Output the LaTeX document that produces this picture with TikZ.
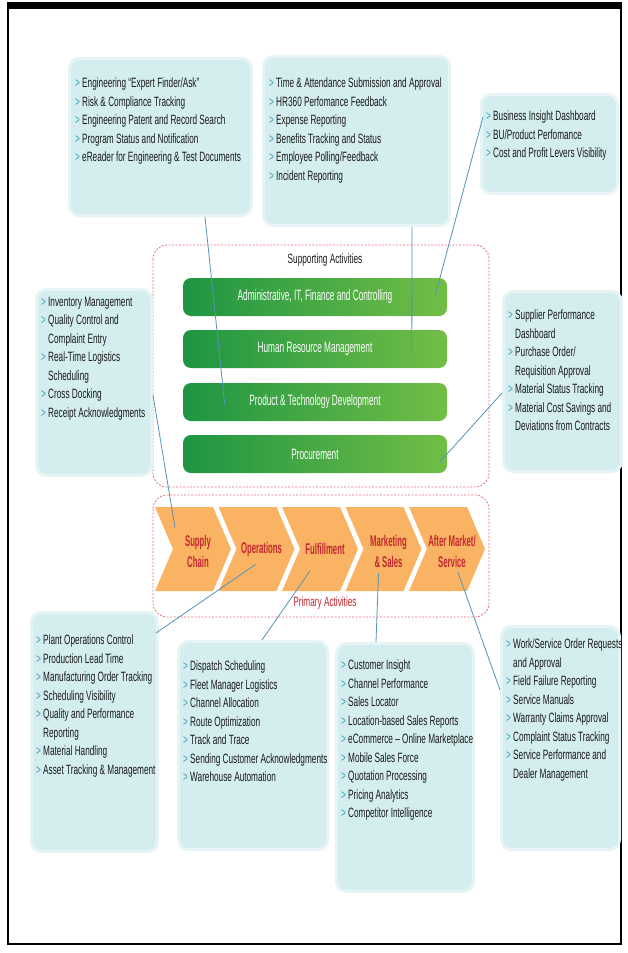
\documentclass[tikz,border=0pt]{standalone}
\usepackage{fontspec}
\setmainfont{Liberation Sans}
\newfontfamily\cond[FakeStretch=0.61]{Liberation Sans}
\newfontfamily\narrowbar[FakeStretch=0.55]{Liberation Sans}
\newfontfamily\narrowchev[FakeStretch=0.5]{Liberation Sans}
\usetikzlibrary{calc}

\definecolor{boxc}{HTML}{D4EDEF}
\definecolor{haloc}{HTML}{E6F4F5}
\definecolor{bulc}{HTML}{3C9FBE}
\definecolor{txtc}{HTML}{1A1A1A}
\definecolor{gdark}{HTML}{1E9543}
\definecolor{glight}{HTML}{72BE46}
\definecolor{orc}{HTML}{FAB363}
\definecolor{redt}{HTML}{C4282E}
\definecolor{dashc}{HTML}{E5737B}
\definecolor{conc}{HTML}{5593B8}

% list bullet and hanging indent for wrapped items
\newcommand\bl{\makebox[7pt][l]{\textcolor{bulc}{>}}}
\newcommand\ct{\hspace*{7pt}}

\begin{document}
\begin{tikzpicture}[x=1pt,y=-1pt,
  lbox/.style={fill=boxc, draw=haloc, line width=3pt, rounded corners=10pt, inner sep=0pt, anchor=north west},
  ltext/.style={anchor=north west, inner sep=0pt, align=left, text=txtc,
    font=\cond\fontsize{13.5}{18.5}\selectfont},
  bar/.style={rounded corners=8pt, left color=gdark, right color=glight,
    minimum width=264pt, minimum height=38pt, text=white, inner sep=0pt,
    font=\narrowbar\fontsize{15}{17}\selectfont},
  zone/.style={draw=dashc, dash pattern=on 2pt off 1.5pt, rounded corners=14pt, line width=0.8pt},
  chev/.style={fill=orc},
  chevtext/.style={text=redt, align=center, inner sep=0pt,
    font=\narrowchev\bfseries\fontsize{15.5}{21}\selectfont},
  zonelabel/.style={inner sep=0pt, font=\cond\fontsize{13.5}{16}\selectfont},
  conn/.style={draw=conc, line width=0.8pt},
]
\useasboundingbox (0,0) rectangle (627,953);
\fill[white] (0,0) rectangle (627,953);

% frame
\fill[black] (7,2) rectangle (622,9);
\draw[line width=2pt] (8,9) -- (8,944) -- (621,944) -- (621,9);

% ---------- dashed zones ----------
\draw[zone] (153,245) rectangle (489,487);
\node[zonelabel, text=txtc] (suplab) at (325,260) {Supporting Activities};
\draw[zone] (153,495) rectangle (489,617);
\node[zonelabel, text=redt] (primlab) at (325,603) {Primary Activities};

% ---------- supporting activity bars ----------
\node[bar] (adm) at (315,297) {Administrative, IT, Finance and Controlling};
\node[bar] (hrm) at (315,349) {Human Resource Management};
\node[bar] (ptd) at (315,402) {Product \& Technology Development};
\node[bar] (prc) at (315,454) {Procurement};

% ---------- primary activity chevrons ----------
\foreach \i in {0,...,4}{
  \pgfmathsetmacro\xa{155+63.5*\i}
  \fill[chev] (\xa,507) -- ({\xa+58},507) -- ({\xa+76},549) -- ({\xa+58},591)
    -- (\xa,591) -- ({\xa+18},549) -- cycle;
}
\node[chevtext] (sc) at (198,551) {Supply\\Chain};
\node[chevtext] (op) at (261.5,549) {Operations};
\node[chevtext] (ff) at (325,549) {Fulfillment};
\node[chevtext] (ms) at (388.5,551) {Marketing\\\& Sales};
\node[chevtext] (am) at (452,551) {After Market/\\Service};

% ---------- information boxes ----------
\node[lbox, minimum width=182pt, minimum height=157pt] (eng) at (68,57) {};
\node[ltext] (engt) at (75,78) {\bl Engineering “Expert Finder/Ask”\\
\bl Risk \& Compliance Tracking\\
\bl Engineering Patent and Record Search\\
\bl Program Status and Notification\\
\bl eReader for Engineering \& Test Documents};

\node[lbox, minimum width=186pt, minimum height=169pt] (hr) at (262,55) {};
\node[ltext] (hrt) at (269,78) {\bl Time \& Attendance Submission and Approval\\
\bl HR360 Perfomance Feedback\\
\bl Expense Reporting\\
\bl Benefits Tracking and Status\\
\bl Employee Polling/Feedback\\
\bl Incident Reporting};

\node[lbox, minimum width=136pt, minimum height=99pt] (bi) at (480,93) {};
\node[ltext] (bit) at (486,111) {\bl Business Insight Dashboard\\
\bl BU/Product Perfomance\\
\bl Cost and Profit Levers Visibility};

\node[lbox, minimum width=115pt, minimum height=186pt] (inv) at (35,288) {};
\node[ltext] (invt) at (41,297) {\bl Inventory Management\\
\bl Quality Control and\\
\ct Complaint Entry\\
\bl Real-Time Logistics\\
\ct Scheduling\\
\bl Cross Docking\\
\bl Receipt  Acknowledgments};

\node[lbox, minimum width=118pt, minimum height=180pt] (sup) at (502,290) {};
\node[ltext] (supt) at (508,310) {\bl Supplier Performance\\
\ct Dashboard\\
\bl Purchase Order/\\
\ct Requisition Approval\\
\bl Material Status Tracking\\
\bl Material Cost Savings and\\
\ct Deviations from Contracts};

\node[lbox, minimum width=126pt, minimum height=239pt] (plant) at (30,611) {};
\node[ltext] (plantt) at (36,635) {\bl Plant Operations Control\\
\bl Production Lead Time\\
\bl Manufacturing Order Tracking\\
\bl Scheduling Visibility\\
\bl Quality and Performance\\
\ct Reporting\\
\bl Material Handling\\
\bl Asset Tracking \& Management};

\node[lbox, minimum width=149pt, minimum height=208pt] (disp) at (177,640) {};
\node[ltext] (dispt) at (183,661) {\bl Dispatch Scheduling\\
\bl Fleet Manager Logistics\\
\bl Channel Allocation\\
\bl Route Optimization\\
\bl Track and Trace\\
\bl Sending Customer Acknowledgments\\
\bl Warehouse Automation};

\node[lbox, minimum width=137pt, minimum height=248pt] (cust) at (335,642) {};
\node[ltext] (custt) at (341,660) {\bl Customer Insight\\
\bl Channel Performance\\
\bl Sales Locator\\
\bl Location-based Sales Reports\\
\bl eCommerce – Online Marketplace\\
\bl Mobile Sales Force\\
\bl Quotation Processing\\
\bl Pricing Analytics\\
\bl Competitor Intelligence};

\node[lbox, minimum width=118pt, minimum height=223pt] (work) at (500,625) {};
\node[ltext] (workt) at (506,639) {\bl Work/Service Order Requests\\
\ct and Approval\\
\bl Field Failure Reporting\\
\bl Service Manuals\\
\bl Warranty Claims Approval\\
\bl Complaint Status Tracking\\
\bl Service Performance and\\
\ct Dealer Management};

% ---------- connectors ----------
\draw[conn] ($(eng.south west)+(137,0)$) -- ($(ptd.west)+(42,3)$);
\draw[conn] ($(hr.south west)+(150,0)$) -- ($(hrm.west)+(229,4)$);
\draw[conn] ($(bi.north west)+(3,24)$) -- ($(adm.west)+(252,0)$);
\draw[conn] ($(inv.north east)+(0,107)$) -- ($(sc.north)+(-23,-7)$);
\draw[conn] ($(sup.north west)+(0,103)$) -- ($(prc.west)+(257,8)$);
\draw[conn] ($(op.south)+(-6,8)$) -- ($(plant.north east)+(-3,22)$);
\draw[conn] ($(ff.south)+(-15,16)$) -- ($(disp.north west)+(85,0)$);
\draw[conn] ($(ms.south)+(-10,6)$) -- ($(cust.north west)+(41,0)$);
\draw[conn] ($(am.south)+(6,5)$) -- ($(work.north west)+(0,65)$);
\end{tikzpicture}
\end{document}
